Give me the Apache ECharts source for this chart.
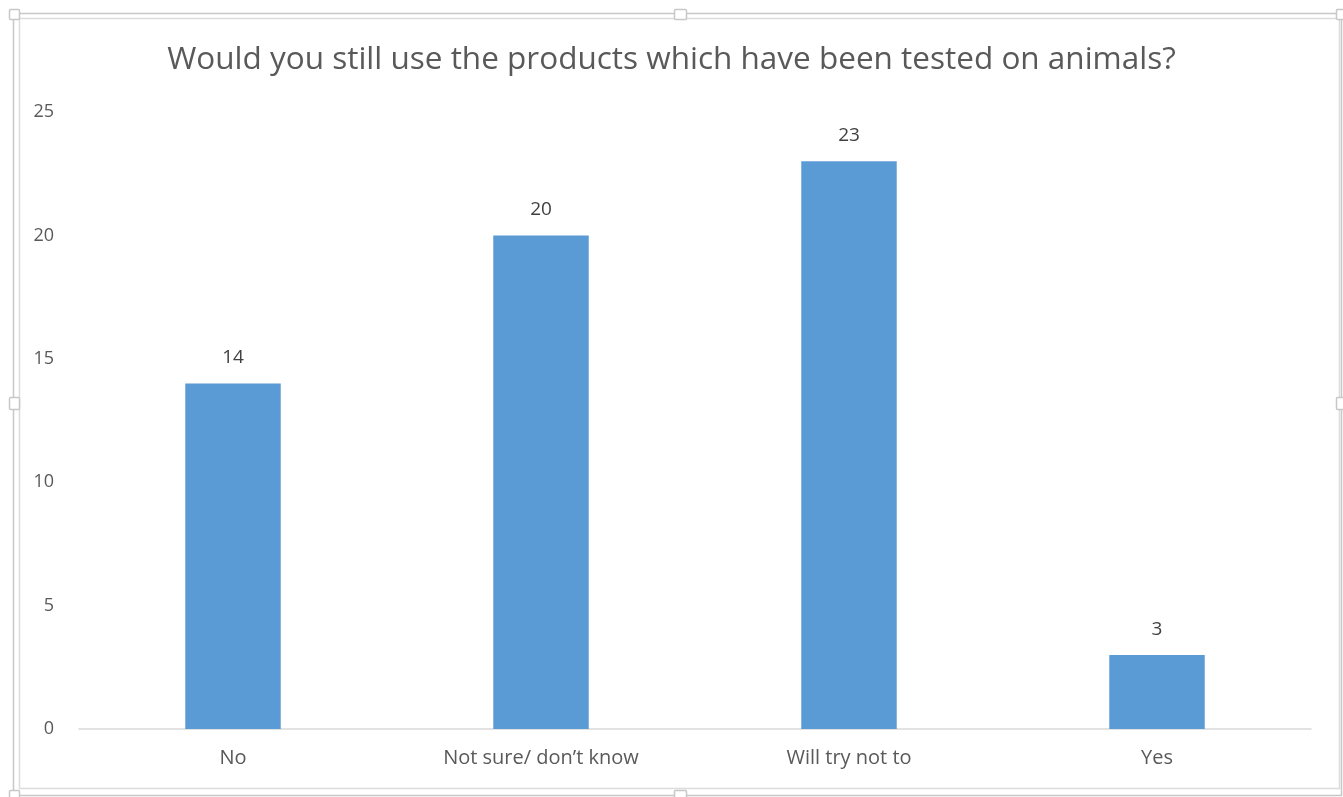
<!DOCTYPE html>
<html>
<head>
<meta charset="utf-8">
<script src="https://cdn.jsdelivr.net/npm/echarts@6/dist/echarts.min.js"></script>
<style>
  html, body { margin: 0; padding: 0; background: #fff; }
  #chart { width: 1343px; height: 797px; }
</style>
</head>
<body>
<div id="chart"></div>
<script>
const titleText = 'Would you still use the products which have been tested on animals?';
const categories = ['No', 'Not sure/ don\u2019t know', 'Will try not to', 'Yes'];
const responses = [14, 20, 23, 3];
const yTicks = { min: 0, max: 25, interval: 5 };

const chart = echarts.init(document.getElementById('chart'));
const frameColor = '#c8c8c8';
const fontFam = '"Open Sans", "Noto Sans", sans-serif';

chart.setOption({
  animation: false,
  title: {
    text: titleText,
    left: 'center',
    top: 39,
    textStyle: { fontFamily: fontFam, fontSize: 31.5, fontWeight: 'normal', color: '#595959' }
  },
  grid: { left: 79, right: 32, top: 112, bottom: 68 },
  xAxis: {
    type: 'category',
    data: categories,
    axisLine: { lineStyle: { color: '#d9d9d9', width: 1.5 } },
    axisTick: { show: false },
    axisLabel: { margin: 19, fontFamily: fontFam, fontSize: 20, color: '#595959' }
  },
  yAxis: {
    type: 'value',
    min: yTicks.min,
    max: yTicks.max,
    interval: yTicks.interval,
    axisLine: { show: false },
    axisTick: { show: false },
    splitLine: { show: false },
    axisLabel: { margin: 25, fontFamily: fontFam, fontSize: 18, color: '#595959' }
  },
  series: [{
    type: 'bar',
    data: responses,
    barWidth: '31%',
    itemStyle: { color: '#5b9bd5' },
    label: {
      show: true,
      position: 'top',
      distance: 16,
      fontFamily: fontFam,
      fontSize: 19,
      color: '#404040'
    }
  }],
  graphic: [
    { type: 'rect', shape: { x: 13.5, y: 13.5, width: 1328, height: 782 }, style: { fill: null, stroke: frameColor, lineWidth: 1.5 }, silent: true },
    { type: 'rect', shape: { x: 19.5, y: 18.5, width: 1320, height: 770 }, style: { fill: null, stroke: '#dcdcdc', lineWidth: 1.5 }, silent: true },
    { type: 'rect', shape: { x: 9.5, y: 9.5, width: 10, height: 10, r: 1 }, style: { fill: '#fff', stroke: frameColor, lineWidth: 1.5 }, silent: true },
    { type: 'rect', shape: { x: 674.5, y: 9.5, width: 12, height: 10, r: 1 }, style: { fill: '#fff', stroke: frameColor, lineWidth: 1.5 }, silent: true },
    { type: 'rect', shape: { x: 1336.5, y: 9.5, width: 10, height: 10, r: 1 }, style: { fill: '#fff', stroke: frameColor, lineWidth: 1.5 }, silent: true },
    { type: 'rect', shape: { x: 9.5, y: 397.5, width: 10, height: 12, r: 1 }, style: { fill: '#fff', stroke: frameColor, lineWidth: 1.5 }, silent: true },
    { type: 'rect', shape: { x: 1336.5, y: 397.5, width: 10, height: 12, r: 1 }, style: { fill: '#fff', stroke: frameColor, lineWidth: 1.5 }, silent: true },
    { type: 'rect', shape: { x: 9.5, y: 790.5, width: 10, height: 10, r: 1 }, style: { fill: '#fff', stroke: frameColor, lineWidth: 1.5 }, silent: true },
    { type: 'rect', shape: { x: 674.5, y: 790.5, width: 12, height: 10, r: 1 }, style: { fill: '#fff', stroke: frameColor, lineWidth: 1.5 }, silent: true }
  ]
});
</script>
</body>
</html>
